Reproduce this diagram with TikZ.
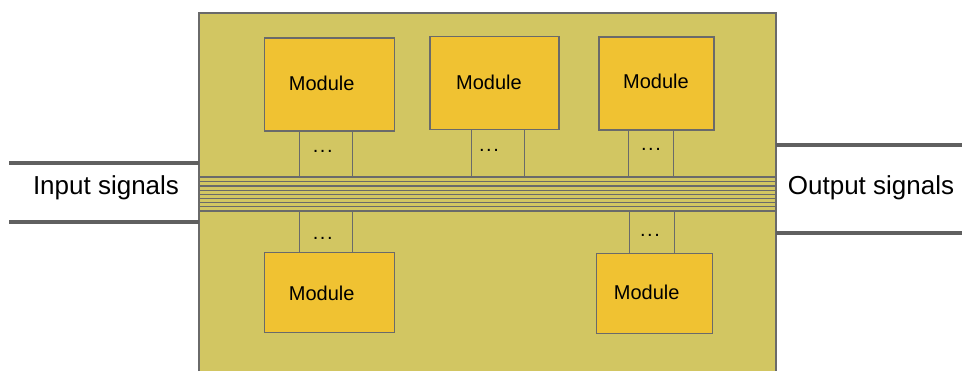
\documentclass[tikz,border=0pt]{standalone}
\usepackage{fontspec}
\setmainfont{Liberation Sans}
\definecolor{chipfill}{HTML}{D2C662}
\definecolor{modfill}{HTML}{F0C232}
\definecolor{edgegray}{HTML}{6A6A6A}
\definecolor{wiregray}{HTML}{606060}
\newcommand{\mydots}{.\kern1.2pt.\kern1.2pt.}
\begin{document}
\begin{tikzpicture}[x=0.75pt,y=-0.75pt,
  module/.style={draw=edgegray,line width=1.1pt,fill=modfill,inner sep=0pt},
  stub/.style={draw=edgegray,line width=0.9pt},
  dots/.style={inner sep=0pt,font=\fontsize{15}{18}\selectfont},
  busline/.style={draw=edgegray,line width=0.8pt},
  wire/.style={draw=wiregray,line width=3pt},
  siglabel/.style={inner sep=0pt,font=\fontsize{19.5}{23}\selectfont}]
\useasboundingbox (0,0) rectangle (962,371);
% chip body
\fill[chipfill] (199,13) rectangle (776,371);
\draw[edgegray,line width=1.1pt] (199,371) -- (199,13) -- (776,13) -- (776,371);
% bus
\foreach \yy in {177,181.5,186,190.2,194.4,198.5,202.7,206.8,211}
  \draw[busline] (199,\yy) -- (776,\yy);
% modules
\node[module,minimum width=130pt*0.75,minimum height=93pt*0.75] (m1) at (329.3,84.7) {};
\node[module,minimum width=129pt*0.75,minimum height=92.6pt*0.75] (m2) at (494.7,83) {};
\node[module,minimum width=115pt*0.75,minimum height=93pt*0.75] (m3) at (656.7,83.5) {};
\node[module,minimum width=130pt*0.75,minimum height=80pt*0.75] (m4) at (329.3,292.7) {};
\node[module,minimum width=116pt*0.75,minimum height=80pt*0.75] (m5) at (654.5,293.7) {};
\node[dots] (t1) at (321.7,83.3) {Module};
\node[dots] (t2) at (489,82.5) {Module};
\node[dots] (t3) at (656,81.5) {Module};
\node[dots] (t4) at (321.7,293) {Module};
\node[dots] (t5) at (646.7,292.5) {Module};
% stub coordinates on the bus
\coordinate (b1a) at (299.3,177); \coordinate (b1b) at (352.7,177);
\coordinate (b2a) at (471.3,177); \coordinate (b2b) at (524.3,177);
\coordinate (b3a) at (628.7,177); \coordinate (b3b) at (673.7,177);
\coordinate (b4a) at (299.3,211); \coordinate (b4b) at (352.7,211);
\coordinate (b5a) at (629.3,211); \coordinate (b5b) at (674.3,211);
\draw[stub] (m1.south -| b1a) -- (b1a);
\draw[stub] (m1.south -| b1b) -- (b1b);
\draw[stub] (m2.south -| b2a) -- (b2a);
\draw[stub] (m2.south -| b2b) -- (b2b);
\draw[stub] (m3.south -| b3a) -- (b3a);
\draw[stub] (m3.south -| b3b) -- (b3b);
\draw[stub] (m4.north -| b4a) -- (b4a);
\draw[stub] (m4.north -| b4b) -- (b4b);
\draw[stub] (m5.north -| b5a) -- (b5a);
\draw[stub] (m5.north -| b5b) -- (b5b);
\node[dots] (d1) at (322.7,151) {\mydots};
\node[dots] (d2) at (489,150) {\mydots};
\node[dots] (d3) at (651,149.5) {\mydots};
\node[dots] (d4) at (322.7,238) {\mydots};
\node[dots] (d5) at (650,235.5) {\mydots};
% signal wires
\coordinate (chipL1) at (199,162.7); \coordinate (chipL2) at (199,221.7);
\coordinate (inL1) at (9,162.7); \coordinate (inL2) at (9,221.7);
\coordinate (chipR1) at (776,145); \coordinate (chipR2) at (776,232.7);
\coordinate (outR1) at (962,145); \coordinate (outR2) at (962,232.7);
\draw[wire] (inL1) -- (chipL1);
\draw[wire] (inL2) -- (chipL2);
\draw[wire] (chipR1) -- (outR1);
\draw[wire] (chipR2) -- (outR2);
\node[siglabel] (inlab) at (106,188) {Input signals};
\node[siglabel] (outlab) at (871,188) {Output signals};
\end{tikzpicture}
\end{document}
